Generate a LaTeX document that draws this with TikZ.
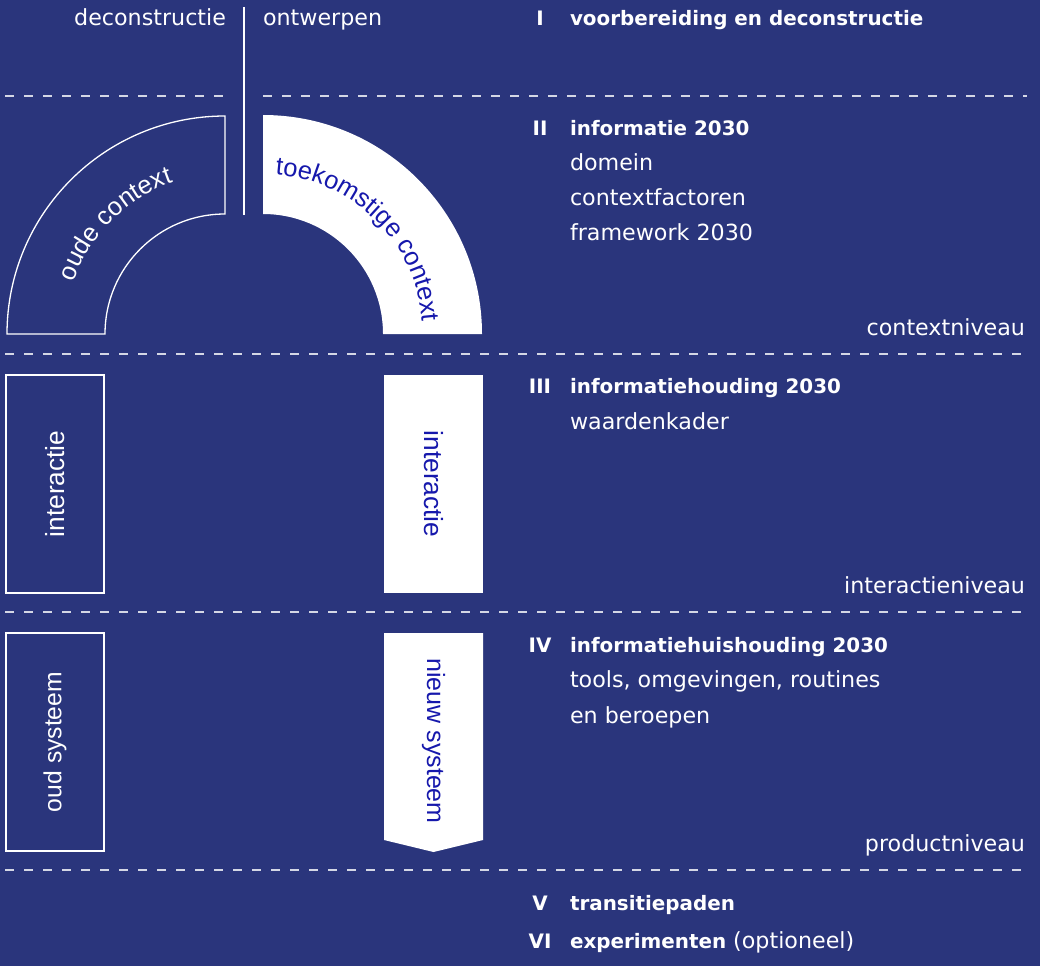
\documentclass[tikz,border=0pt]{standalone}
\usepackage{fontspec}
\setmainfont{DejaVu Sans}
\newfontfamily\arialfont{Liberation Sans}
\usepackage{tikz}
\usetikzlibrary{positioning,decorations.text}
\definecolor{bg}{RGB}{42,53,124}
\definecolor{inkblue}{RGB}{22,24,172}

\begin{document}
\begin{tikzpicture}[x=1pt, y=1pt,
	every node/.style={inner sep=0pt, outer sep=0pt, text=white},
	txt/.style={font=\fontsize{22.2}{26}\selectfont},
	headfont/.style={font=\fontsize{19.9}{24}\selectfont\bfseries},
	num/.style={headfont, anchor=base},
	head/.style={headfont, anchor=base west},
	item/.style={txt, anchor=base west},
	niveau/.style={txt, anchor=base east},
	dashline/.style={draw=white!80!bg, line width=1.3pt, dash pattern=on 9pt off 10pt},
	oldbox/.style={draw=white, line width=1.3pt},
	newbox/.style={fill=white},
	sidetext/.style={font=\arialfont\fontsize{#1}{30}\selectfont},
	sidetext/.default=25]
	\fill[bg] (0,0) rectangle (1040,-966);
	\node[txt, anchor=base east] (dec) at (226,-26) {deconstructie};
	\node[txt, anchor=base west] (ont) at (263,-26) {ontwerpen};
	\coordinate (divtop) at (244,-7);
	\coordinate (divbot) at (244,-215);
	\draw[oldbox] (divtop) -- (divbot);
	\draw[dashline] (5,-96) -- (225,-96);
	\draw[dashline] (263,-96) -- (1027,-96);
	\draw[dashline] (5,-354) -- (1027,-354);
	\draw[dashline] (5,-612) -- (1027,-612);
	\draw[dashline] (5,-870) -- (1027,-870);
	\draw[oldbox] (225,-116) arc (90:180:218) -- ++(98,0) arc (180:90:120) -- cycle;
	\fill[newbox] (263,-115) arc (90:0:219) -- ++(-99,0) arc (0:90:120) -- cycle;
	\path[decorate, decoration={text along path, text align=center,
		text={|\arialfont\fontsize{25.5}{30}\selectfont\color{white}|oude context}}]
		(65,-334) arc (180:90:160);
	\path[decorate, decoration={text along path, text align=center,
		text={|\arialfont\fontsize{25.5}{30}\selectfont\color{inkblue}|toekomstige context}}]
		(263,-174) arc (90:0:160);
	\node[oldbox, sidetext=26.3, rotate=90, minimum width=218pt, minimum height=98pt] (oi) at (55,-484) {interactie};
	\node[newbox, sidetext=26.3, rotate=-90, text=inkblue, minimum width=218pt, minimum height=99pt] (ni) at (433.5,-484) {interactie};
	\node[oldbox, sidetext=24.7, rotate=90, minimum width=218pt, minimum height=98pt] (os) at (55,-742) {oud systeem};
	\fill[newbox] (384,-633) -- (483,-633) -- (483,-840) -- (433.5,-852) -- (384,-840) -- cycle;
	\node[sidetext, rotate=-90, text=inkblue] (ns) at (433.5,-741) {nieuw systeem};
	\node[num] (n1) at (540,-26) {I};
	\node (h1) [right=30pt of n1.base, head] {voorbereiding en deconstructie};
	\node[num] (n2) at (540,-135) {II};
	\node (h2) [right=30pt of n2.base, head] {informatie 2030};
	\node (dom) [below=35pt of h2.base west, item] {domein};
	\node (cf) [below=35pt of dom.base west, item] {contextfactoren};
	\node (fw) [below=35pt of cf.base west, item] {framework 2030};
	\node[niveau] (lv1) at (1025,-335) {contextniveau};
	\node[num] (n3) at (540,-393) {III};
	\node (h3) [right=30pt of n3.base, head] {informatiehouding 2030};
	\node (wk) [below=36pt of h3.base west, item] {waardenkader};
	\node[niveau] (lv2) at (1025,-593) {interactieniveau};
	\node[num] (n4) at (540,-652) {IV};
	\node (h4) [right=30pt of n4.base, head] {informatiehuishouding 2030};
	\node (tl) [below=35pt of h4.base west, item] {tools, omgevingen, routines};
	\node (bp) [below=36pt of tl.base west, item] {en beroepen};
	\node[niveau] (lv3) at (1025,-851) {productniveau};
	\node[num] (n5) at (540,-910) {V};
	\node (h5) [right=30pt of n5.base, head] {transitiepaden};
	\node[num] (n6) at (540,-948) {VI};
	\node (h6) [right=30pt of n6.base, head] {experimenten \mdseries\fontsize{22.2}{26}\selectfont(optioneel)};
\end{tikzpicture}
\end{document}
